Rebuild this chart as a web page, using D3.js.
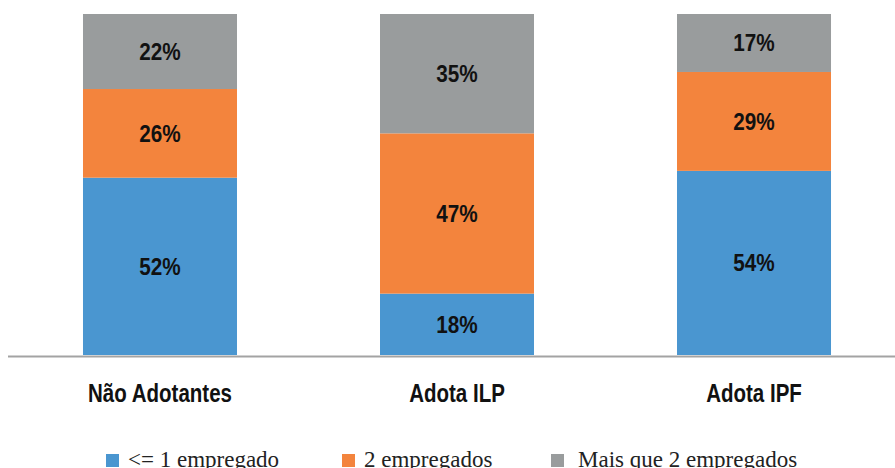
<!DOCTYPE html>
<html>
<head>
<meta charset="utf-8">
<script src="https://cdn.jsdelivr.net/npm/d3@7"></script>
<style>
  body { margin: 0; background: #fff; }
  svg { display: block; }
</style>
</head>
<body>
<div id="chart"></div>
<script>
// data
const categories = ["Não Adotantes", "Adota ILP", "Adota IPF"];
const seriesNames = ["<= 1 empregado", "2 empregados", "Mais que 2 empregados"];
const ate1 = [52, 18, 54];
const dois = [26, 47, 29];
const maisQue2 = [22, 35, 17];
const colors = ["#4a96d0", "#f3843d", "#999c9d"];

const width = 895, height = 468;

const svg = d3.select("#chart")
    .append("svg")
    .attr("width", width)
    .attr("height", height);

// table for the stack
const rows = categories.map((c, i) => ({
    cat: c,
    s0: ate1[i],
    s1: dois[i],
    s2: maisQue2[i]
}));

const stack = d3.stack().keys(["s0", "s1", "s2"]);
const layers = stack(rows);

const x = d3.scaleBand()
    .domain(categories)
    .range([11.5, 902.5])
    .paddingInner(0.4815)
    .paddingOuter(0.2407);

const y = d3.scaleLinear()
    .domain([0, 100])
    .range([355, 14]);

const g = svg.append("g");

const layer = g.selectAll(".layer")
    .data(layers)
    .enter()
    .append("g")
    .attr("fill", (d, i) => colors[i]);

layer.selectAll("rect")
    .data(d => d)
    .enter()
    .append("rect")
    .attr("x", d => x(d.data.cat))
    .attr("width", x.bandwidth())
    .attr("y", d => y(d[1]))
    .attr("height", d => y(d[0]) - y(d[1]));

// value labels
layer.selectAll("text")
    .data(d => d)
    .enter()
    .append("text")
    .attr("transform", d => {
        const cx = x(d.data.cat) + x.bandwidth() / 2;
        const cy = (y(d[0]) + y(d[1])) / 2;
        return "translate(" + cx + "," + cy + ") scale(0.9,1)";
    })
    .attr("text-anchor", "middle")
    .attr("dy", "0.36em")
    .attr("fill", "#111")
    .style("font-family", "'Liberation Sans', Arial, sans-serif")
    .style("font-weight", "bold")
    .style("font-size", "23px")
    .text(d => (d[1] - d[0]) + "%");

// baseline
svg.append("line")
    .attr("x1", 8)
    .attr("x2", width)
    .attr("y1", 356.5)
    .attr("y2", 356.5)
    .attr("stroke", "#a3a3a3")
    .attr("stroke-width", 2);

// category labels
svg.selectAll(".cat")
    .data(categories)
    .enter()
    .append("text")
    .attr("class", "cat")
    .attr("transform", d => "translate(" + (x(d) + x.bandwidth() / 2) + ",402) scale(0.82,1)")
    .attr("text-anchor", "middle")
    .attr("fill", "#111")
    .style("font-family", "'Liberation Sans', Arial, sans-serif")
    .style("font-weight", "bold")
    .style("font-size", "25px")
    .text(d => d);

// legend
const legendX = [106, 342, 551];
const legend = svg.selectAll(".leg")
    .data(seriesNames)
    .enter()
    .append("g")
    .attr("class", "leg")
    .attr("transform", (d, i) => "translate(" + legendX[i] + ",0)");

legend.append("rect")
    .attr("x", 0)
    .attr("y", 454)
    .attr("width", 13)
    .attr("height", 13)
    .attr("fill", (d, i) => colors[i]);

legend.append("text")
    .attr("x", (d, i) => i === 2 ? 27 : 22)
    .attr("y", 467)
    .attr("fill", "#222")
    .style("font-family", "'Liberation Serif', 'Times New Roman', serif")
    .style("font-size", "23px")
    .text(d => d);
</script>
</body>
</html>
